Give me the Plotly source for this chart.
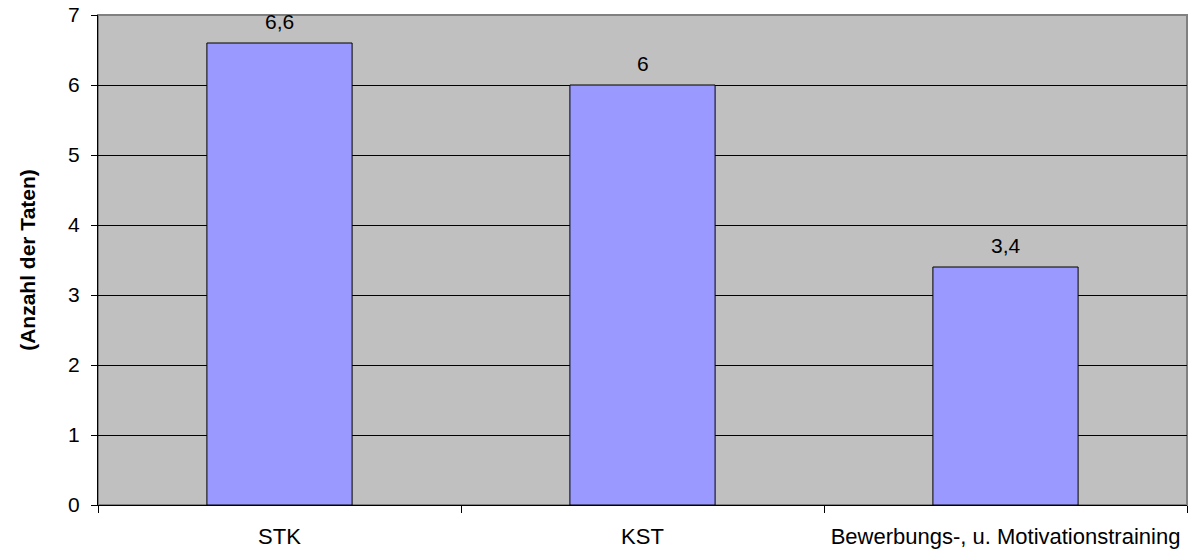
import plotly.graph_objects as go

categories = ["STK", "KST", "Bewerbungs-, u. Motivationstraining"]
values = [6.6, 6.0, 3.4]
y_ticks = [0, 1, 2, 3, 4, 5, 6, 7]

def fmt(v):
    s = ("%g" % v)
    return s.replace(".", ",")

labels = [fmt(v) for v in values]
FONT = "Liberation Sans, Arial, sans-serif"

fig = go.Figure()
fig.add_trace(go.Bar(
    x=categories, y=values,
    marker=dict(color="#9999FF", line=dict(color="black", width=1)),
    width=0.4,
))

for c, v, t in zip(categories, values, labels):
    fig.add_annotation(x=c, y=v, text=t, showarrow=False, yanchor="middle",
                       yshift=22, font=dict(family=FONT, size=21, color="black"))

fig.update_layout(
    width=1190, height=556,
    margin=dict(l=98, r=3, t=15, b=51),
    paper_bgcolor="white", plot_bgcolor="#C0C0C0",
    font=dict(family=FONT, size=20, color="black"),
    showlegend=False,
    shapes=[dict(type="rect", xref="paper", yref="paper", x0=0, y0=0, x1=1, y1=1,
                 line=dict(color="#808080", width=2), layer="below")],
)
fig.update_xaxes(
    type="category", tickson="boundaries", ticks="outside", ticklen=7,
    tickcolor="black", showline=True, linecolor="black", linewidth=1,
    showgrid=False, ticklabelstandoff=12,
    tickfont=dict(family=FONT, size=22),
)
fig.update_yaxes(
    range=[0, 7], tickvals=y_ticks, ticks="outside", ticklen=6,
    tickcolor="black", showline=True, linecolor="black", linewidth=1,
    showgrid=True, gridcolor="black", gridwidth=1, zeroline=False,
    ticklabelstandoff=7,
    title=dict(text="<b>(Anzahl der Taten)</b>", font=dict(family=FONT, size=21), standoff=26),
    tickfont=dict(family=FONT, size=21),
)

fig.write_html("out.html")
